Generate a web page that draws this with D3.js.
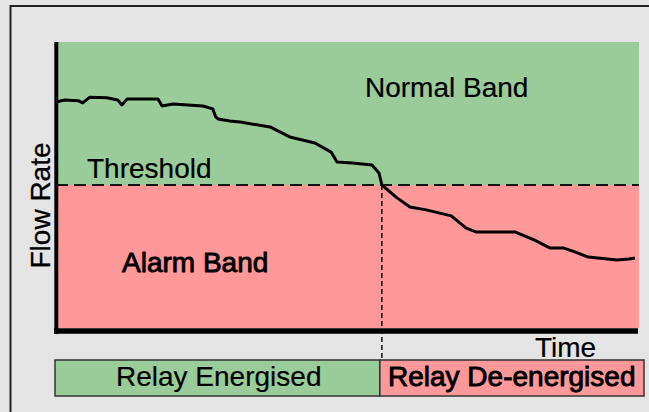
<!DOCTYPE html>
<html>
<head>
<meta charset="utf-8">
<script src="https://cdnjs.cloudflare.com/ajax/libs/d3/7.8.5/d3.min.js"></script>
<style>
  html, body { margin: 0; padding: 0; background: #e4e4e4; }
  svg { display: block; }
  text { font-family: "Liberation Sans", Arial, sans-serif; fill: #000; }
</style>
</head>
<body>
<div id="chart"></div>
<script>
// flow trace (time 0-100, flow 0-100)
const times = [0, 1.5, 3.8, 4.6, 5.8, 8.7, 10.6, 11.3, 12.2, 17.5, 18.2, 20.1, 22.6, 25.2, 26.9, 27.4,
               27.8, 29.8, 31.6, 36.7, 40.1, 44.4, 47.2, 48.2, 50.8, 54.2, 55.4, 55.9, 58.5, 60.7,
               63.5, 67.8, 70.3, 72.0, 78.7, 82.0, 84.7, 87.0, 89.0, 91.3, 96.2, 98.3, 99.3]
const flows = [79.0, 79.7, 79.5, 78.7, 80.7, 80.5, 79.7, 78.0, 80.1, 80.1, 77.6, 78.3, 78.0, 77.6, 76.6, 73.8,
               73.1, 72.4, 72.0, 70.3, 66.8, 64.7, 61.5, 58.0, 57.7, 57.0, 54.2, 50.0, 45.5, 42.3,
               41.3, 39.2, 35.0, 33.6, 33.6, 30.8, 28.0, 28.0, 26.6, 24.8, 23.8, 24.1, 24.5]
const threshold = 50
const tripTime = 55.9
const relayLabels = ["Relay Energised", "Relay De-energised"]

const width = 649, height = 412
const svg = d3.select("#chart").append("svg")
    .attr("width", width)
    .attr("height", height)

// outer frame, runs off the right and bottom
svg.append("rect")
    .attr("x", 10.5).attr("y", 6)
    .attr("width", 700).attr("height", 500)
    .attr("fill", "#e4e4e4")
    .attr("stroke", "#222")
    .attr("stroke-width", 2)

let x = d3.scaleLinear().domain([0, 100]).range([56, 639])
let y = d3.scaleLinear().domain([0, 100]).range([328, 42])

// bands
svg.append("rect")
    .attr("x", x(0)).attr("y", y(100))
    .attr("width", x(100) - x(0)).attr("height", y(threshold) - y(100))
    .attr("fill", "#99cc99")
svg.append("rect")
    .attr("x", x(0)).attr("y", y(threshold))
    .attr("width", x(100) - x(0)).attr("height", y(0) - y(threshold))
    .attr("fill", "#ff9898")

// relay state boxes
const boxTop = 360, boxBottom = 396
svg.selectAll("rect.relay")
    .data([[0, tripTime], [tripTime, 100]])
    .enter().append("rect")
        .attr("class", "relay")
        .attr("x", (d, i) => i == 0 ? x(0) - 1 : x(d[0]) - 2)
        .attr("y", boxTop)
        .attr("width", (d, i) => i == 0 ? x(d[1]) - x(0) - 1 : 644 - x(d[0]) + 2)
        .attr("height", boxBottom - boxTop)
        .attr("fill", (d, i) => i == 0 ? "#99cc99" : "#ff9898")
        .attr("stroke", "#333")
        .attr("stroke-width", 1.5)

// threshold + trip marker
svg.append("line")
    .attr("x1", x(0)).attr("x2", x(100))
    .attr("y1", y(threshold)).attr("y2", y(threshold))
    .attr("stroke", "#111").attr("stroke-width", 2)
    .attr("stroke-dasharray", "12,6")
svg.append("line")
    .attr("x1", x(tripTime)).attr("x2", x(tripTime))
    .attr("y1", y(threshold)).attr("y2", boxTop)
    .attr("stroke", "#111").attr("stroke-width", 1.5)
    .attr("stroke-dasharray", "5,3")

// axes
svg.append("line")
    .attr("x1", 56.3).attr("x2", 56.3)
    .attr("y1", y(100)).attr("y2", 334)
    .attr("stroke", "#000").attr("stroke-width", 4)
svg.append("line")
    .attr("x1", 54).attr("x2", 638)
    .attr("y1", 331).attr("y2", 331)
    .attr("stroke", "#000").attr("stroke-width", 5.5)

// flow trace
let flowLine = d3.line()
    .x(d => x(d[0]))
    .y(d => y(d[1]))
svg.append("path")
    .datum(d3.zip(times, flows))
    .attr("d", flowLine)
    .attr("fill", "none")
    .attr("stroke", "#000")
    .attr("stroke-width", 3)
    .attr("stroke-linejoin", "round")

// labels
function label(txt, px, py, heavy) {
    return svg.append("text")
        .attr("x", px).attr("y", py)
        .attr("font-size", 28)
        .attr("stroke", "#000")
        .attr("stroke-width", heavy ? 0.9 : 0.2)
        .text(txt)
}
label("Normal Band", 365, 97, false)
label("Threshold", 87, 178, false)
label("Alarm Band", 122, 272, true)
label("Time", 535, 357, false)
label(relayLabels[0], 116, 386, false)
label(relayLabels[1], 388, 386, true)
svg.append("text")
    .attr("transform", "translate(50,205.5) rotate(-90)")
    .attr("text-anchor", "middle")
    .attr("font-size", 28)
    .attr("stroke", "#000").attr("stroke-width", 0.3)
    .text("Flow Rate")
</script>
</body>
</html>
